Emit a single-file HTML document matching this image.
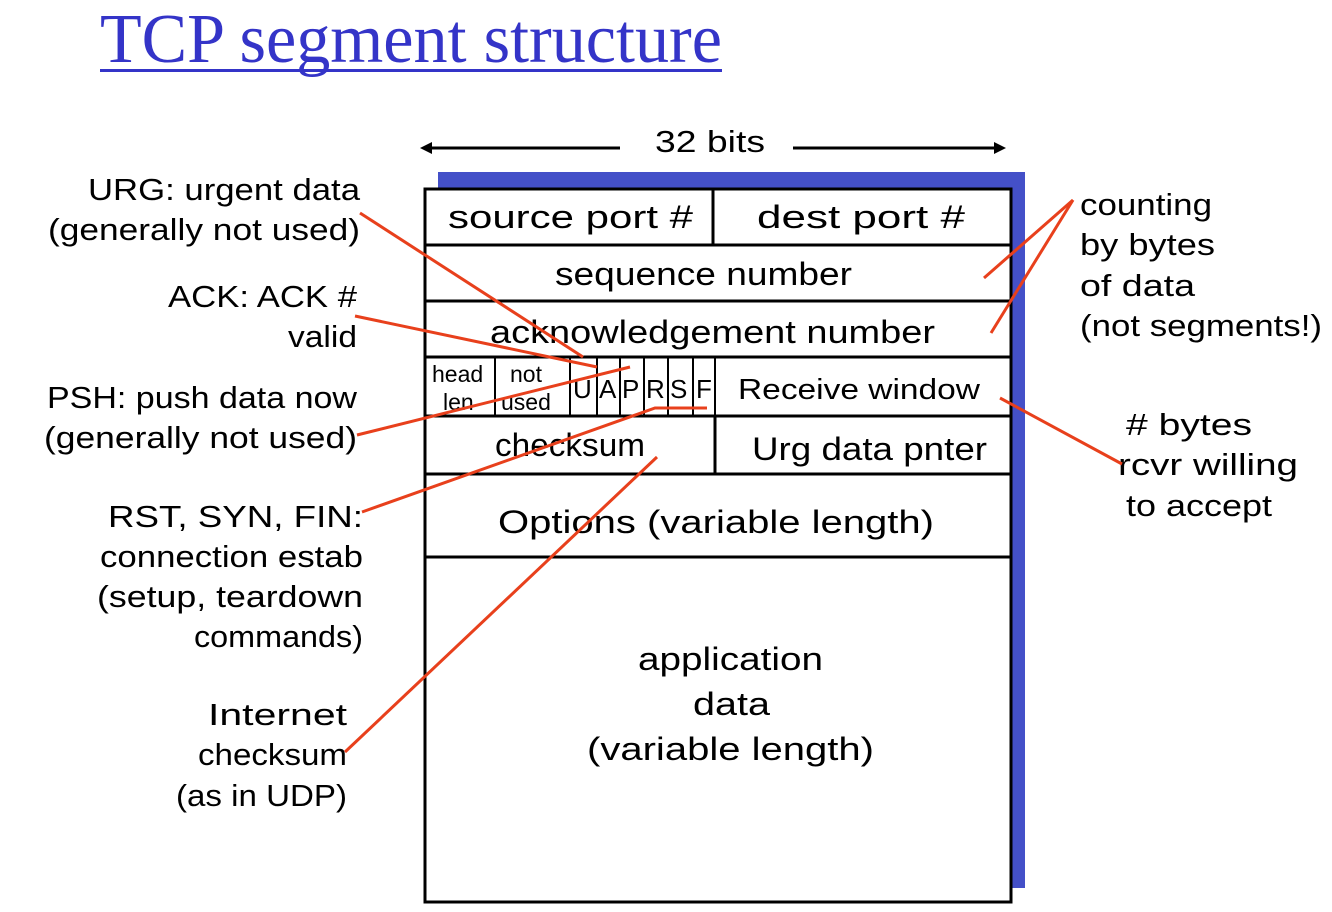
<!DOCTYPE html>
<html><head><meta charset="utf-8"><style>
html,body{margin:0;padding:0;background:#fff;}
svg{display:block;}
text{font-family:"Liberation Sans",sans-serif;fill:#000;}
</style></head><body>
<svg width="1332" height="912" viewBox="0 0 1332 912">
<text x="100" y="62" font-size="70" textLength="622" lengthAdjust="spacingAndGlyphs" style="font-family:'Liberation Serif',serif;fill:#3434c8">TCP segment structure</text>
<rect x="100" y="69" width="622" height="3" fill="#3434c8"/>

<g stroke="#000" stroke-width="3">
<line x1="428" y1="148" x2="620" y2="148"/><line x1="793" y1="148" x2="998" y2="148"/>
</g>
<polygon points="420,148 432,142 432,154" fill="#000"/>
<polygon points="1006,148 994,142 994,154" fill="#000"/>
<text x="655" y="152" font-size="31" textLength="110" lengthAdjust="spacingAndGlyphs">32 bits</text>

<rect x="438" y="172" width="587" height="716" fill="#4450c8"/>
<rect x="425" y="189" width="586" height="713" fill="#fff" stroke="#000" stroke-width="3"/>
<g stroke="#000" stroke-width="3">
<line x1="425" y1="245" x2="1011" y2="245"/>
<line x1="425" y1="301" x2="1011" y2="301"/>
<line x1="425" y1="357" x2="1011" y2="357"/>
<line x1="425" y1="416" x2="1011" y2="416"/>
<line x1="425" y1="474" x2="1011" y2="474"/>
<line x1="425" y1="557" x2="1011" y2="557"/>
<line x1="713" y1="189" x2="713" y2="245"/>
<line x1="715" y1="416" x2="715" y2="474"/>
<g stroke-width="2">
<line x1="495" y1="357" x2="495" y2="416"/><line x1="570" y1="357" x2="570" y2="416"/>
<line x1="597" y1="357" x2="597" y2="416"/><line x1="620" y1="357" x2="620" y2="416"/>
<line x1="644" y1="357" x2="644" y2="416"/><line x1="668" y1="357" x2="668" y2="416"/>
<line x1="693" y1="357" x2="693" y2="416"/><line x1="715" y1="357" x2="715" y2="416"/>
</g>
</g>
<g font-size="32">
<text x="448" y="228" textLength="245" lengthAdjust="spacingAndGlyphs">source port #</text>
<text x="757" y="228" textLength="208" lengthAdjust="spacingAndGlyphs">dest port #</text>
<text x="555" y="285" textLength="297" lengthAdjust="spacingAndGlyphs">sequence number</text>
<text x="490" y="343" textLength="445" lengthAdjust="spacingAndGlyphs">acknowledgement number</text>
<text x="738" y="399" font-size="29" textLength="242" lengthAdjust="spacingAndGlyphs">Receive window</text>
<text x="495" y="456" textLength="150" lengthAdjust="spacingAndGlyphs">checksum</text>
<text x="752" y="460" textLength="235" lengthAdjust="spacingAndGlyphs">Urg data pnter</text>
<text x="498" y="533" textLength="436" lengthAdjust="spacingAndGlyphs">Options (variable length)</text>
<text x="638" y="670" textLength="185" lengthAdjust="spacingAndGlyphs">application</text>
<text x="693" y="715" textLength="77" lengthAdjust="spacingAndGlyphs">data</text>
<text x="587" y="760" textLength="287" lengthAdjust="spacingAndGlyphs">(variable length)</text>
</g>
<g font-size="23">
<text x="432" y="382">head</text>
<text x="443" y="410">len</text>
<text x="510" y="382">not</text>
<text x="501" y="410">used</text>
</g>
<g font-size="26">
<text x="573" y="398">U</text><text x="599" y="398">A</text><text x="622" y="398">P</text>
<text x="646" y="398">R</text><text x="670" y="398">S</text><text x="696" y="398">F</text>
</g>

<g font-size="31" lengthAdjust="spacingAndGlyphs">
<text x="88" y="200" textLength="272" lengthAdjust="spacingAndGlyphs">URG: urgent data</text>
<text x="48" y="240" textLength="312" lengthAdjust="spacingAndGlyphs">(generally not used)</text>
<text x="168" y="307" textLength="189" lengthAdjust="spacingAndGlyphs">ACK: ACK #</text>
<text x="288" y="347" textLength="69" lengthAdjust="spacingAndGlyphs">valid</text>
<text x="47" y="408" textLength="310" lengthAdjust="spacingAndGlyphs">PSH: push data now</text>
<text x="44" y="448" textLength="313" lengthAdjust="spacingAndGlyphs">(generally not used)</text>
<text x="108" y="527" textLength="255" lengthAdjust="spacingAndGlyphs">RST, SYN, FIN:</text>
<text x="100" y="567" textLength="263" lengthAdjust="spacingAndGlyphs">connection estab</text>
<text x="97" y="607" textLength="266" lengthAdjust="spacingAndGlyphs">(setup, teardown</text>
<text x="194" y="647" textLength="169" lengthAdjust="spacingAndGlyphs">commands)</text>
<text x="208" y="725" textLength="139" lengthAdjust="spacingAndGlyphs">Internet</text>
<text x="198" y="765" textLength="149" lengthAdjust="spacingAndGlyphs">checksum</text>
<text x="176" y="806" textLength="171" lengthAdjust="spacingAndGlyphs">(as in UDP)</text>
</g>
<g font-size="31">
<text x="1080" y="215" textLength="132" lengthAdjust="spacingAndGlyphs">counting</text>
<text x="1080" y="255" textLength="135" lengthAdjust="spacingAndGlyphs">by bytes</text>
<text x="1080" y="296" textLength="115" lengthAdjust="spacingAndGlyphs">of data</text>
<text x="1080" y="336" textLength="242" lengthAdjust="spacingAndGlyphs">(not segments!)</text>
<text x="1126" y="435" textLength="126" lengthAdjust="spacingAndGlyphs"># bytes</text>
<text x="1118" y="475" textLength="180" lengthAdjust="spacingAndGlyphs">rcvr willing</text>
<text x="1126" y="516" textLength="146" lengthAdjust="spacingAndGlyphs">to accept</text>
</g>

<g stroke="#e8401c" stroke-width="3" fill="none">
<line x1="360" y1="213" x2="583" y2="357"/>
<line x1="355" y1="316" x2="597" y2="367"/>
<line x1="357" y1="435" x2="630" y2="367"/>
<polyline points="362,512 655,408 707,408"/>
<line x1="345" y1="752" x2="657" y2="457"/>
<line x1="1073" y1="200" x2="984" y2="278"/>
<line x1="1073" y1="200" x2="991" y2="333"/>
<line x1="1000" y1="398" x2="1122" y2="464"/>
</g>
</svg>
</body></html>
